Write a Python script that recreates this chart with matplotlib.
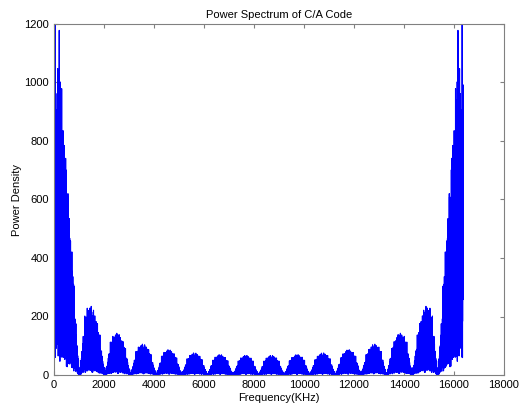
import numpy as np
import matplotlib
matplotlib.use('Agg')
import matplotlib.pyplot as plt

# GPS C/A code settings (PRN 1)
g2_taps = [2, 6]           # G2 phase selector for PRN 1
g1_feedback = [3, 10]
g2_feedback = [2, 3, 6, 8, 9, 10]
n_chips = 1023
samples_per_chip = 16
fs_khz = 16368             # sampling rate in kHz

x_ticks = [0, 2000, 4000, 6000, 8000, 10000, 12000, 14000, 16000, 18000]
y_ticks = [0, 200, 400, 600, 800, 1000, 1200]


def ca_code(taps):
    g1 = [1] * 10
    g2 = [1] * 10
    out = []
    for i in range(n_chips):
        g2i = g2[taps[0] - 1] ^ g2[taps[1] - 1]
        out.append(g1[9] ^ g2i)
        f1 = 0
        for t in g1_feedback:
            f1 ^= g1[t - 1]
        f2 = 0
        for t in g2_feedback:
            f2 ^= g2[t - 1]
        g1 = [f1] + g1[:9]
        g2 = [f2] + g2[:9]
    return np.array(out)


code = 1 - 2 * ca_code(g2_taps)
sig = np.repeat(code, samples_per_chip)
spec = np.abs(np.fft.fft(sig))
freq = np.arange(len(sig)) * fs_khz / len(sig)

plt.rcParams['font.family'] = ['Liberation Sans', 'DejaVu Sans']
plt.rcParams['font.size'] = 8

fig = plt.figure(figsize=(5.29, 4.03), dpi=100)
ax = fig.add_axes([54 / 529, 1 - 375 / 403, 450 / 529, 351 / 403])
ax.plot(freq, spec, color='#0000ff', linewidth=0.8)
ax.set_xlim(0, 18000)
ax.set_ylim(0, 1200)
ax.set_xticks(x_ticks)
ax.set_yticks(y_ticks)
ax.tick_params(direction='in', length=3, color='#808080', top=True, right=True, labelsize=8)
for s in ax.spines.values():
    s.set_color('#808080')
    s.set_linewidth(0.8)
ax.set_title('Power Spectrum of C/A Code', fontsize=8, pad=4)
ax.set_xlabel('Frequency(KHz)', fontsize=8, labelpad=2)
ax.set_ylabel('Power Density', fontsize=8, labelpad=2)

fig.savefig('out.png', dpi=100)
